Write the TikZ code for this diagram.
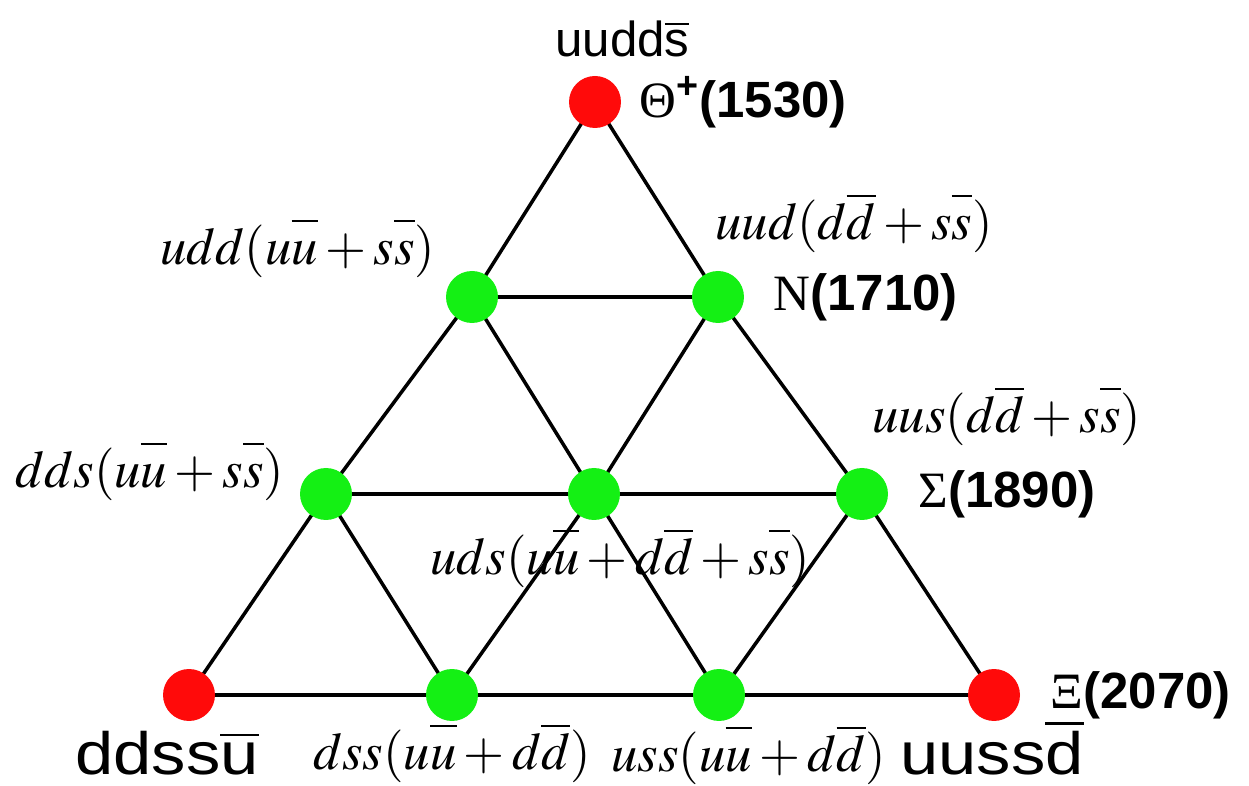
\documentclass[tikz,border=0pt]{standalone}
\usepackage{mathptmx}
\usepackage{fontspec}
\setmainfont{Liberation Serif}
\setsansfont{Liberation Sans}
\usepackage{tikz}
\usetikzlibrary{positioning,backgrounds}
\definecolor{hadred}{HTML}{FF0A0A}
\definecolor{hadgreen}{HTML}{14F014}
\tikzset{
  qk/.style={circle, inner sep=0pt, minimum size=1.04cm},
  exo/.style={qk, fill=hadred},
  oct/.style={qk, fill=hadgreen},
  edge/.style={line width=2pt, black},
  quarks/.style={font=\fontsize{28}{34}\selectfont\sffamily, anchor=base west, inner sep=0pt},
  bigquarks/.style={quarks, font=\fontsize{34}{40}\selectfont\sffamily},
  mix/.style={font=\fontsize{30}{36}\selectfont, anchor=base west, inner sep=0pt},
  mass/.style={font=\fontsize{29}{35}\selectfont, inner sep=0pt},
}
\newcommand{\ob}[1]{\ensuremath{\overline{\mbox{#1}}}}
\newcommand{\ab}[1]{\overline{\vphantom{d}#1}}
\newcommand{\heavy}[1]{{\sffamily\bfseries #1}}
\newcommand{\wide}[1]{\scalebox{1.15}[1]{#1}}

\begin{document}
\begin{tikzpicture}[x=0.02cm, y=-0.02cm]
\useasboundingbox (0,0) rectangle (1249,786);

% the ten states
\node[exo] (thp) at (595,102) {};
\node[oct] (udd) at (472,297) {};
\node[oct] (uud) at (718,297) {};
\node[oct] (dds) at (326,494) {};
\node[oct] (uds) at (594,494) {};
\node[oct] (uus) at (862,494) {};
\node[exo] (xdd) at (189,695) {};
\node[oct] (dss) at (452,695) {};
\node[oct] (uss) at (719,695) {};
\node[exo] (xuu) at (994,695) {};

\begin{scope}[on background layer]
\draw[edge] (thp.center) -- (udd.center) -- (dds.center) -- (xdd.center);
\draw[edge] (thp.center) -- (uud.center) -- (uus.center) -- (xuu.center);
\draw[edge] (udd.center) -- (uud.center);
\draw[edge] (dds.center) -- (uds.center) -- (uus.center);
\draw[edge] (xdd.center) -- (dss.center) -- (uss.center) -- (xuu.center);
\draw[edge] (uud.center) -- (uds.center) -- (dss.center);
\draw[edge] (udd.center) -- (uds.center) -- (uss.center);
\draw[edge] (dds.center) -- (dss.center);
\draw[edge] (uus.center) -- (uss.center);
\end{scope}

% masses
\node[mass, right=0.36cm of thp] (mthp) {Θ\heavy{\textsuperscript{+}(1530)}};
\node[mass, right=0.58cm of uud] (muud) {N\heavy{(1710)}};
\node[mass, right=0.6cm of uus] (muus) {Σ\heavy{(1890)}};
\node[mass, right=0.6cm of xuu] (mxuu) {Ξ\heavy{(2070)}};

% quark content
\node[quarks] (qthp) at (555,57) {uudd\ob{s}};
\node[bigquarks] (qxdd) at (75,775) {\wide{ddss\ob{u}}};
\node[bigquarks] (qxuu) at (900,775) {\wide{uuss\ob{d}}};
\node[mix] (qudd) at (160,265) {$udd(u\ab{u}+s\ab{s})$};
\node[mix] (quud) at (715,240) {$uud(d\ab{d}+s\ab{s})$};
\node[mix] (qdds) at (15,488) {$dds(u\ab{u}+s\ab{s})$};
\node[mix] (quus) at (872,433) {$uus(d\ab{d}+s\ab{s})$};
\node[mix] (quds) at (430,575) {$uds(u\ab{u}+d\ab{d}+s\ab{s})$};
\node[mix] (qdss) at (313,770) {$dss(u\ab{u}+d\ab{d})$};
\node[mix] (quss) at (611,772) {$uss(u\ab{u}+d\ab{d})$};

\end{tikzpicture}
\end{document}
